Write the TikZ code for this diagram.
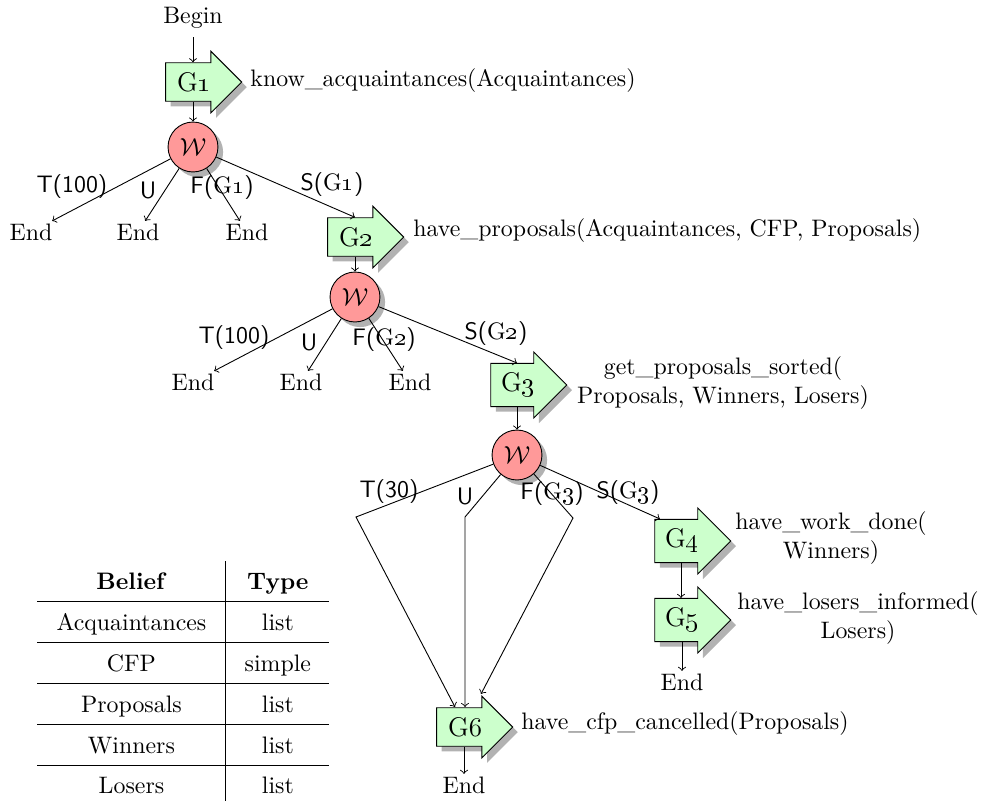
\documentclass[tikz,border=0pt]{standalone}
\usepackage{array}
\usetikzlibrary{shapes.arrows, shadows, positioning}

\tikzset{
    goal/.style={single arrow, draw, fill=green!20, drop shadow={fill=black!30, opacity=1},
        minimum height=33.8pt, minimum width=26.7pt, single arrow head extend=5.1pt,
        single arrow head indent=0pt, inner xsep=2pt, inner ysep=4pt, font=\large},
    watch/.style={circle, draw, fill=red!40, drop shadow={fill=black!30, opacity=1},
        minimum size=22.2pt, inner sep=0pt},
    elabel/.style={font=\sffamily, inner sep=0pt},
    desc/.style={align=center, inner sep=0pt},
    fin/.style={inner sep=1pt},
}

\begin{document}
\begin{tikzpicture}[x=0.4446pt, y=-0.4446pt, >=to]

    \fontsize{10.6}{12.7}\selectfont
    \useasboundingbox (0,0) rectangle (982,800);

    % Start
    \node (begin) at (193,18) {Begin};

    % First goal
    \node[goal] (g1) at (194,82) {G\oldstylenums{1}};
    \node[desc, anchor=west] (d1) at (250,81) {know\_acquaintances(Acquaintances)};
    \node[watch] (w1) at (193,147) {$\mathcal{W}$};
    \draw[->] (begin) -- (g1.north -| begin);
    \draw[->] (g1.south -| w1) -- (w1);

    \node[fin] (e11) at (31,232) {End};
    \node[fin] (e12) at (138,232) {End};
    \node[fin] (e13) at (247,232) {End};
    \draw[->] (w1) -- (e11);
    \draw[->] (w1) -- (e12);
    \draw[->] (w1) -- (e13);
    \node[elabel] (t1) at (72,187) {T(100)};
    \node[elabel] (u1) at (148,190) {U};
    \node[elabel] (f1) at (222,188) {F(\rmfamily G\oldstylenums{1}\sffamily)};
    \node[elabel] (s1) at (332,185) {S(\rmfamily G\oldstylenums{1}\sffamily)};

    % Second goal
    \node[goal] (g2) at (356,237) {G\oldstylenums{2}};
    \node[desc, anchor=west] (d2) at (413,231) {have\_proposals(Acquaintances, CFP, Proposals)};
    \draw[->] (w1) -- (g2.north -| 355,0);
    \node[watch] (w2) at (355,297) {$\mathcal{W}$};
    \draw[->] (g2.south -| w2) -- (w2);

    \node[fin] (e21) at (193,382) {End};
    \node[fin] (e22) at (301,382) {End};
    \node[fin] (e23) at (410,382) {End};
    \draw[->] (w2) -- (e21);
    \draw[->] (w2) -- (e22);
    \draw[->] (w2) -- (e23);
    \node[elabel] (t2) at (234,338) {T(100)};
    \node[elabel] (u2) at (309,342) {U};
    \node[elabel] (f2) at (384,340) {F(\rmfamily G\oldstylenums{2}\sffamily)};
    \node[elabel] (s2) at (496,334) {S(\rmfamily G\oldstylenums{2}\sffamily)};

    % Third goal
    \node[goal] (g3) at (518,385) {G\oldstylenums{3}};
    \node[desc] (d3) at (723,383) {get\_proposals\_sorted(\\Proposals, Winners, Losers)};
    \draw[->] (w2) -- (g3.north -| 517,0);
    \node[watch] (w3) at (517,455) {$\mathcal{W}$};
    \draw[->] (g3.south -| w3) -- (w3);

    % Fallback goal
    \node[goal] (g6) at (465,727) {G6};
    \node[desc, anchor=west] (d6) at (521,724) {have\_cfp\_cancelled(Proposals)};
    \node[fin] (e6) at (464,785) {End};
    \draw[->] (g6.south -| e6) -- (e6);

    \coordinate (ct) at (356,517);
    \coordinate (cu) at (465,517);
    \coordinate (cf) at (573,518);
    \draw[->] (w3) -- (ct) -- (455,707);
    \draw[->] (w3) -- (cu) -- (465,707);
    \draw[->] (w3) -- (cf) -- (481,694);
    \node[elabel] (t3) at (389,492) {T(30)};
    \node[elabel] (u3) at (465,496) {U};
    \node[elabel] (f3) at (552,494) {F(\rmfamily G\oldstylenums{3}\sffamily)};
    \node[elabel] (s3) at (628,493) {S(\rmfamily G\oldstylenums{3}\sffamily)};

    % Success goals
    \node[goal] (g4) at (682,541) {G\oldstylenums{4}};
    \node[desc] (d4) at (831,538) {have\_work\_done(\\Winners)};
    \draw[->] (w3) -- (g4.north west);
    \node[goal] (g5) at (682,620) {G\oldstylenums{5}};
    \node[desc] (d5) at (858,618) {have\_losers\_informed(\\Losers)};
    \draw[->] (g4.south -| 681,0) -- (g5.north -| 681,0);
    \node[fin] (e5) at (682,682) {End};
    \draw[->] (g5.south -| e5) -- (e5);

    % Belief table
    \renewcommand{\arraystretch}{1.4}
    \node[anchor=north west, inner sep=0pt] (beliefs) at (37,561) {%
        \begin{tabular}{>{\centering\arraybackslash}p{71.6pt}|>{\centering\arraybackslash}p{33.8pt}}
            \textbf{Belief} & \textbf{Type} \\ \hline
            Acquaintances & list \\ \hline
            CFP & simple \\ \hline
            Proposals & list \\ \hline
            Winners & list \\ \hline
            Losers & list
        \end{tabular}};

\end{tikzpicture}
\end{document}
